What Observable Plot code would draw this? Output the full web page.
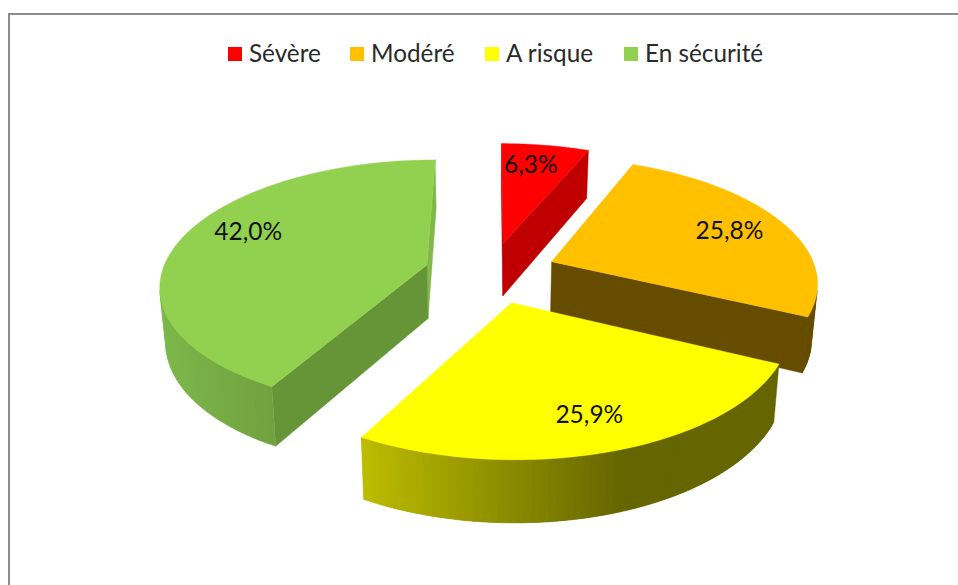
<!DOCTYPE html>
<html><head><meta charset="utf-8">
<script src="https://cdn.jsdelivr.net/npm/d3@7"></script>
<script src="https://cdn.jsdelivr.net/npm/@observablehq/plot@0.6"></script>
<style>
html,body{margin:0;padding:0;background:#fff;overflow:hidden}
#wrap{position:relative;width:958px;height:585px;overflow:hidden}
#frame{position:absolute;left:8px;top:13px;width:960px;height:600px;border-left:2.5px solid #8c8c8c;border-top:2.5px solid #8c8c8c}
#legend{position:absolute;left:0;top:38px;width:958px;height:28px;font:24.3px Lato,sans-serif;color:#2a2a2a}
#legend span{position:absolute;white-space:nowrap}
#legend i{position:absolute;width:14px;height:14px;top:9px}
#chart{position:absolute;left:0;top:0}
</style></head><body>
<div id="wrap"><div id="frame"></div><div id="legend"></div><div id="chart"></div></div>
<script>
const categories=["Sévère","Modéré","A risque","En sécurité"];
const values=[6.3,25.8,25.9,42.0];
const labels=["6,3%","25,8%","25,9%","42,0%"];
const topColors=["#ff0000","#ffc000","#ffff00","#92d050"];
const startFaceColors=["#c00000","#654c00","#666600","#669538"];
const endFaceColors=["#c00000","#654c00","#666600","#80b948"];
const rimFrom=["#c00000","#654c00","#bdbd00","#7db84a"];
const rimTo=["#c00000","#654c00","#666600","#70a03f"];
const rimRange=[[0,1],[0,1],[362,625],[160,280]];
const drawOrder=[0,3,1,2];
const legendSwatchX=[228,350,485,624];
const legendTextX=[249,371,506,645];
const labelRadius=[.80,.75,.76,.72];
const labelShift=[[-7,2],[4,0],[3,4],[-2,-12]];

// layout of the pie, in page pixels per model unit
const W=958,H=585,cx=490,cy=272,Rx=265,Ry=123;
const persp=.151,shrink=.018,depth=55/Ry,explode=.25;
const project=(X,Y,Z)=>{const s=(1-shrink*Z)/(1+persp*Y);return {u:X*s,v:-Y*s+Z*depth*s};};
const toR=d=>d*Math.PI/180;

const total=d3.sum(values);
let acc=0;
const slices=values.map((v,i)=>{const a0=acc/total*360;acc+=v;const a1=acc/total*360;return {i,a0,a1,mid:(a0+a1)/2};});
const pt=(s,r,a,Z)=>{const ox=explode*Math.sin(toR(s.mid)),oy=explode*Math.cos(toR(s.mid));
  return project(ox+r*Math.sin(toR(a)),oy+r*Math.cos(toR(a)),Z);};
const px=p=>[cx+p.u*Rx,cy+p.v*Ry];
const facing=q=>{let t=0;const P=q.map(px);P.forEach((A,k)=>{const B=P[(k+1)%P.length];t+=A[0]*B[1]-B[0]*A[1];});return t<0;};

const rows=[];let nid=0;
const addPoly=(q,fill)=>{nid++;[...q,q[0]].forEach(p=>rows.push({id:nid,u:p.u,v:p.v,fill}));};
for(const k of drawOrder){
  const s=slices[k];
  // inner faces
  const f0=[pt(s,0,0,0),pt(s,1,s.a0,0),pt(s,1,s.a0,1),pt(s,0,0,1)];
  const f1=[pt(s,1,s.a1,0),pt(s,0,0,0),pt(s,0,0,1),pt(s,1,s.a1,1)];
  if(facing(f1))addPoly(f1,endFaceColors[k]);
  if(facing(f0))addPoly(f0,startFaceColors[k]);
  // outer rim, shaded across the page; each band runs under the next to hide seams
  const grad=d3.interpolateRgb(rimFrom[k],rimTo[k]);
  const step=1.5;
  for(let a=s.a0;a<s.a1-1e-6;a+=step){
    const b=Math.min(a+step,s.a1), b2=Math.min(a+step*2,s.a1);
    if(!facing([pt(s,1,a,0),pt(s,1,b,0),pt(s,1,b,1),pt(s,1,a,1)]))continue;
    const arc0=[],arc1=[];
    [a,(a+b2)/2,b2].forEach(c=>{arc0.push(pt(s,1,c,0));arc1.unshift(pt(s,1,c,1));});
    const x=px(pt(s,1,a,0))[0];
    const t=Math.max(0,Math.min(1,(x-rimRange[k][0])/(rimRange[k][1]-rimRange[k][0])));
    addPoly([...arc0,...arc1],grad(t));
  }
  // top
  const topPoly=[pt(s,0,0,0)];
  for(let a=s.a0;a<s.a1;a+=1)topPoly.push(pt(s,1,a,0));
  topPoly.push(pt(s,1,s.a1,0));
  addPoly(topPoly,topColors[k]);
}
const labelRows=slices.map(s=>{const p=pt(s,labelRadius[s.i],s.mid,0);
  return {u:p.u+labelShift[s.i][0]/Rx,v:p.v+labelShift[s.i][1]/Ry,text:labels[s.i]};});

const chart=Plot.plot({
  width:W,height:H,margin:0,
  style:{background:"transparent"},
  x:{domain:[-cx/Rx,(W-cx)/Rx],range:[0,W],axis:null},
  y:{domain:[-cy/Ry,(H-cy)/Ry],range:[0,H],axis:null},
  color:{type:"identity"},
  marks:[
    Plot.line(rows,{x:"u",y:"v",z:"id",fill:"fill",stroke:"fill",strokeWidth:.4,curve:"linear"}),
    Plot.text(labelRows,{x:"u",y:"v",text:"text",fontSize:24.5,fontFamily:"Lato, sans-serif",fill:"#111"})
  ]
});
document.getElementById("chart").appendChild(chart);

const lg=document.getElementById("legend");
categories.forEach((c,i)=>{
  const sw=document.createElement("i");sw.style.left=legendSwatchX[i]+"px";sw.style.background=topColors[i];lg.appendChild(sw);
  const sp=document.createElement("span");sp.style.left=legendTextX[i]+"px";sp.textContent=c;lg.appendChild(sp);
});
</script></body></html>
